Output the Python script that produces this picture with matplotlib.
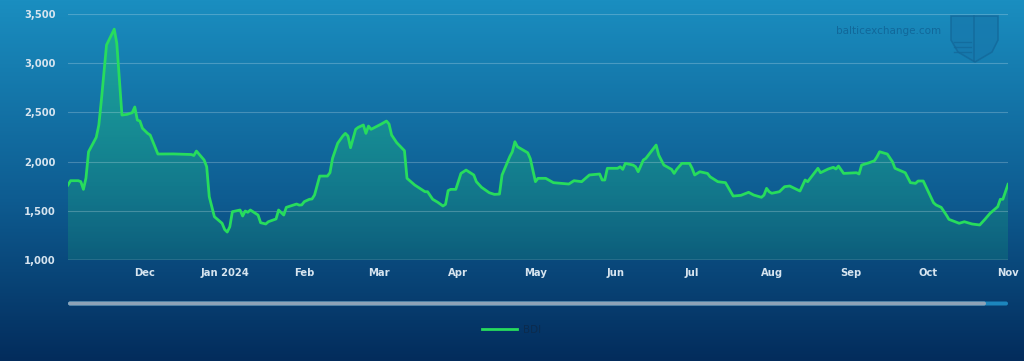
import numpy as np
import pandas as pd
import matplotlib
matplotlib.use('Agg')
import matplotlib.pyplot as plt
import matplotlib.dates as mdates
from matplotlib.patches import FancyBboxPatch, Polygon
from matplotlib.ticker import FuncFormatter

# BDI values
dates = [
    '2023-11-01', '2023-11-02', '2023-11-05', '2023-11-06', '2023-11-07', '2023-11-08', '2023-11-09',
    '2023-11-12', '2023-11-13', '2023-11-14', '2023-11-16', '2023-11-19', '2023-11-20', '2023-11-22',
    '2023-11-24', '2023-11-26', '2023-11-27', '2023-11-28', '2023-11-29', '2023-11-30', '2023-12-02',
    '2023-12-03', '2023-12-06', '2023-12-07', '2023-12-12', '2023-12-19', '2023-12-20', '2023-12-21',
    '2023-12-24', '2023-12-25', '2023-12-26', '2023-12-28', '2023-12-31', '2024-01-01', '2024-01-02',
    '2024-01-03', '2024-01-04', '2024-01-07', '2024-01-08', '2024-01-09', '2024-01-10', '2024-01-11',
    '2024-01-14', '2024-01-15', '2024-01-17', '2024-01-18', '2024-01-21', '2024-01-22', '2024-01-24',
    '2024-01-25', '2024-01-29', '2024-01-30', '2024-01-31', '2024-02-01', '2024-02-03', '2024-02-04',
    '2024-02-05', '2024-02-07', '2024-02-10', '2024-02-11', '2024-02-12', '2024-02-14', '2024-02-16',
    '2024-02-17', '2024-02-18', '2024-02-19', '2024-02-21', '2024-02-22', '2024-02-24', '2024-02-25',
    '2024-02-26', '2024-02-27', '2024-03-02', '2024-03-04', '2024-03-05', '2024-03-06', '2024-03-08',
    '2024-03-11', '2024-03-12', '2024-03-15', '2024-03-19', '2024-03-20', '2024-03-22', '2024-03-24',
    '2024-03-26', '2024-03-27', '2024-03-28', '2024-03-29', '2024-03-31', '2024-04-02', '2024-04-04',
    '2024-04-07', '2024-04-08', '2024-04-10', '2024-04-13', '2024-04-15', '2024-04-17', '2024-04-18',
    '2024-04-21', '2024-04-22', '2024-04-23', '2024-04-24', '2024-04-28', '2024-04-29', '2024-05-01',
    '2024-05-02', '2024-05-05', '2024-05-08', '2024-05-11', '2024-05-14', '2024-05-16', '2024-05-19',
    '2024-05-22', '2024-05-26', '2024-05-27', '2024-05-28', '2024-05-29', '2024-06-02', '2024-06-03',
    '2024-06-04', '2024-06-05', '2024-06-08', '2024-06-09', '2024-06-10', '2024-06-12', '2024-06-13',
    '2024-06-17', '2024-06-18', '2024-06-20', '2024-06-23', '2024-06-24', '2024-06-25', '2024-06-27',
    '2024-06-30', '2024-07-01', '2024-07-02', '2024-07-04', '2024-07-07', '2024-07-08', '2024-07-11',
    '2024-07-14', '2024-07-17', '2024-07-20', '2024-07-23', '2024-07-25', '2024-07-28', '2024-07-29',
    '2024-07-30', '2024-07-31', '2024-08-01', '2024-08-04', '2024-08-06', '2024-08-08', '2024-08-12',
    '2024-08-14', '2024-08-15', '2024-08-19', '2024-08-20', '2024-08-23', '2024-08-25', '2024-08-26',
    '2024-08-27', '2024-08-29', '2024-09-03', '2024-09-04', '2024-09-05', '2024-09-08', '2024-09-10',
    '2024-09-11', '2024-09-12', '2024-09-15', '2024-09-17', '2024-09-18', '2024-09-22', '2024-09-24',
    '2024-09-26', '2024-09-27', '2024-09-29', '2024-10-03', '2024-10-04', '2024-10-06', '2024-10-08',
    '2024-10-09', '2024-10-13', '2024-10-15', '2024-10-18', '2024-10-21', '2024-10-23', '2024-10-25',
    '2024-10-28', '2024-10-29', '2024-10-30', '2024-11-01',
]
bdi = [
    1762, 1806, 1806, 1796, 1718, 1833, 2100,
    2247, 2372, 2625, 3185, 3346, 3202, 2473,
    2480, 2497, 2555, 2422, 2412, 2338, 2287,
    2270, 2077, 2077, 2078, 2072, 2062, 2107,
    2016, 1948, 1643, 1440, 1373, 1310, 1284,
    1338, 1491, 1508, 1447, 1498, 1485, 1508,
    1457, 1379, 1366, 1389, 1417, 1508, 1457,
    1535, 1569, 1558, 1560, 1593, 1617, 1620,
    1661, 1853, 1853, 1887, 2033, 2186, 2260,
    2287, 2260, 2141, 2328, 2348, 2372, 2287,
    2361, 2328, 2382, 2412, 2382, 2270, 2192,
    2111, 1830, 1762, 1694, 1694, 1617, 1586,
    1549, 1566, 1705, 1718, 1718, 1880, 1914,
    1864, 1796, 1739, 1684, 1667, 1670, 1864,
    2050, 2100, 2202, 2151, 2090, 2030, 1796,
    1830, 1830, 1786, 1779, 1772, 1806, 1796,
    1864, 1874, 1813, 1813, 1932, 1932, 1948,
    1921, 1982, 1965, 1948, 1897, 2016, 2033,
    2168, 2067, 1965, 1921, 1880, 1921, 1982,
    1982, 1932, 1864, 1897, 1880, 1846, 1796,
    1786, 1650, 1657, 1688, 1660, 1637, 1660,
    1728, 1694, 1678, 1694, 1745, 1752, 1701,
    1813, 1796, 1932, 1887, 1925, 1942, 1925,
    1955, 1880, 1887, 1874, 1965, 1989, 2009,
    2050, 2100, 2077, 1999, 1932, 1887, 1786,
    1779, 1803, 1803, 1582, 1559, 1535, 1457,
    1413, 1373, 1389, 1366, 1356, 1413, 1474,
    1542, 1617, 1617, 1769,
]
y_ticks = [1000, 1500, 2000, 2500, 3000, 3500]
series_name = 'BDI'

t = pd.to_datetime(dates)

W, H = 1024, 361
fig = plt.figure(figsize=(W / 100, H / 100), dpi=100)

# background gradient (light blue top -> navy bottom)
bg = fig.add_axes([0, 0, 1, 1], zorder=-10)
top = np.array([26, 142, 192]) / 255
mid = np.array([14, 92, 145]) / 255
bot = np.array([3, 44, 92]) / 255
s = np.linspace(0, 1, 256)[:, None]
grad = np.where(s < 0.55, top + (mid - top) * (s / 0.55), mid + (bot - mid) * ((s - 0.55) / 0.45))
bg.imshow(grad[:, None, :].repeat(2, axis=1), aspect='auto', extent=[0, W, H, 0])
bg.set_xlim(0, W)
bg.set_ylim(H, 0)
bg.axis('off')

# watermark
bg.text(889, 31, 'balticexchange.com', color='#11689a', fontsize=7.5, ha='center', va='center')
shield = Polygon([[951, 16], [998, 16], [998, 40], [992, 52], [975, 62], [958, 52], [951, 40]],
                 closed=True, facecolor='#1779ad', edgecolor='#13699b', lw=1.2, alpha=0.8)
bg.add_patch(shield)
bg.plot([974, 974], [16, 61], color='#13699b', lw=1.2, alpha=0.8)
for yy in (42, 47, 52):
    bg.plot([954, 971], [yy, yy], color='#13699b', lw=1, alpha=0.8)

# scrollbar
bg.add_patch(FancyBboxPatch((68, 301.5), 940, 4, boxstyle='round,pad=0,rounding_size=2',
                            facecolor='#1c86bd', edgecolor='none'))
bg.add_patch(FancyBboxPatch((68, 301.5), 918, 4, boxstyle='round,pad=0,rounding_size=2',
                            facecolor='#8ea3b7', edgecolor='none'))

ax = fig.add_axes([68 / W, 1 - 260 / H, 940 / W, 246 / H])
ax.patch.set_alpha(0)

ax.set_ylim(1000, 3500)
x0, x1 = pd.Timestamp('2023-11-01'), pd.Timestamp('2024-11-01')
ax.set_xlim(x0, x1)

# area under the line: green fading towards the bottom
area = ax.fill_between(t, bdi, 1000, color='none', lw=0)
fade = np.zeros((256, 2, 4))
fade[..., 0] = 0.14
fade[..., 1] = 0.85
fade[..., 2] = 0.45
fade[..., 3] = np.linspace(0.40, 0.14, 256)[:, None]
img = ax.imshow(fade, aspect='auto', origin='upper', zorder=1,
                extent=[mdates.date2num(x0), mdates.date2num(x1), 1000, max(bdi)])
img.set_clip_path(area.get_paths()[0], transform=ax.transData)
ax.set_ylim(1000, 3500)
ax.set_xlim(x0, x1)

ax.plot(t, bdi, color='#27dc5d', lw=2.0, solid_joinstyle='round', label=series_name, zorder=3)

ax.set_yticks(y_ticks)
ax.yaxis.set_major_formatter(FuncFormatter(lambda v, p: f'{int(v):,}'))
ax.grid(axis='y', color='#ffffff', alpha=0.22, lw=0.8)
ax.axhline(1000, color='#a9c4d6', lw=1.0, alpha=0.8)

ticks = mdates.date2num(pd.date_range('2023-12-01', '2024-11-01', freq='MS'))
ax.set_xticks(ticks)
ax.xaxis.set_major_formatter(FuncFormatter(
    lambda v, p: mdates.num2date(v).strftime('%b %Y') if mdates.num2date(v).month == 1
    else mdates.num2date(v).strftime('%b')))

for sp in ax.spines.values():
    sp.set_visible(False)
ax.tick_params(axis='both', length=0, colors='#d6e4ef', labelsize=7.2)
ax.tick_params(axis='y', pad=9)
ax.tick_params(axis='x', pad=6)
for lab in ax.get_xticklabels() + ax.get_yticklabels():
    lab.set_fontweight('bold')

leg = ax.legend(loc='center', bbox_to_anchor=(0.472, -0.285), frameon=False, fontsize=7.5,
                handlelength=3.4, handletextpad=0.6)
for txt in leg.get_texts():
    txt.set_color('#0b2b4e')

fig.savefig('out.png', dpi=100)
